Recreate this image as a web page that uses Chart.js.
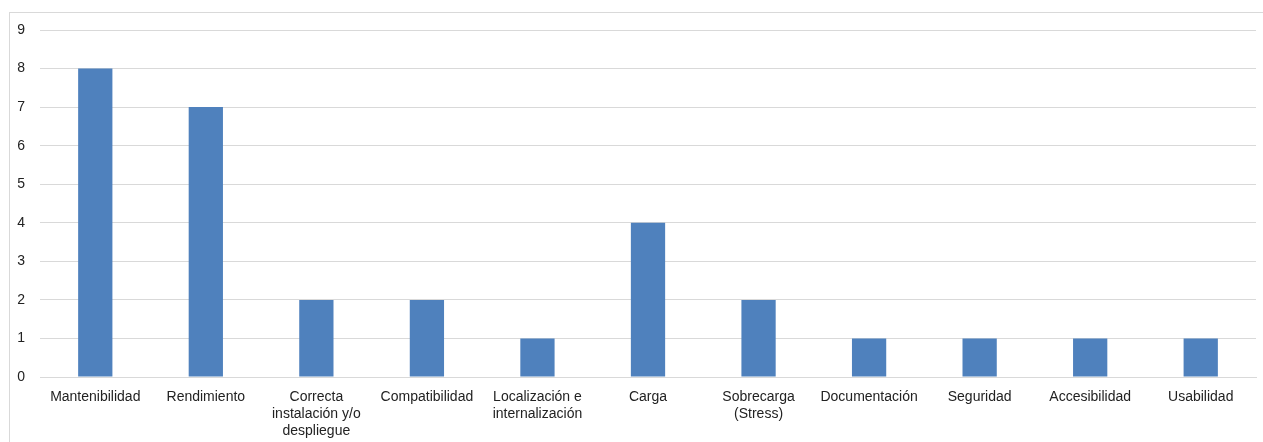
<!DOCTYPE html>
<html>
<head>
<meta charset="utf-8">
<script src="https://cdn.jsdelivr.net/npm/chart.js@4"></script>
<style>
  html, body { margin: 0; padding: 0; background: #fff; }
  #wrap { position: relative; width: 1263px; height: 442px; overflow: hidden; }
  #frame { position: absolute; left: 9px; top: 12px; width: 1300px; height: 500px; border: 1px solid #d9d9d9; }
  #grafico { position: absolute; left: 0; top: 0; }
</style>
</head>
<body>
<div id="wrap">
  <div id="frame"></div>
  <canvas id="grafico" width="1263" height="442"></canvas>
</div>
<script>
const categorias = [
  "Mantenibilidad",
  "Rendimiento",
  ["Correcta", "instalación y/o", "despliegue"],
  "Compatibilidad",
  ["Localización e", "internalización"],
  "Carga",
  ["Sobrecarga", "(Stress)"],
  "Documentación",
  "Seguridad",
  "Accesibilidad",
  "Usabilidad"
];
const valores = [8, 7, 2, 2, 1, 4, 2, 1, 1, 1, 1];
const ticksY = [0, 1, 2, 3, 4, 5, 6, 7, 8, 9];

var ctx = document.getElementById("grafico");
var grafico = new Chart(ctx, {
  type: "bar",
  data: {
    labels: categorias,
    datasets: [
      {
        label: "Pruebas",
        data: valores,
        backgroundColor: "#4f81bd",
        borderWidth: 0,
        categoryPercentage: 1,
        barPercentage: 0.31,
      },
    ],
  },
  options: {
    responsive: false,
    animation: false,
    layout: { padding: { top: 30, right: 7, left: 0, bottom: 0 } },
    plugins: { legend: { display: false }, tooltip: { enabled: false } },
    scales: {
      x: {
        grid: { display: false, drawTicks: false },
        border: { color: "#d9d9d9" },
        ticks: {
          color: "#222",
          font: { family: "Liberation Sans, Arial", size: 14 },
          padding: 12,
          maxRotation: 0,
          autoSkip: false,
        },
        afterFit: function (scale) { scale.height = 65; },
      },
      y: {
        min: 0,
        max: 9,
        afterBuildTicks: function (scale) {
          scale.ticks = ticksY.map(function (v) { return { value: v }; });
        },
        grid: { color: "#d9d9d9", drawTicks: false },
        border: { display: false },
        ticks: {
          color: "#222",
          font: { family: "Liberation Sans, Arial", size: 14 },
          padding: 15,
        },
        afterFit: function (scale) { scale.width = 40; },
      },
    },
  },
});
</script>
</body>
</html>
